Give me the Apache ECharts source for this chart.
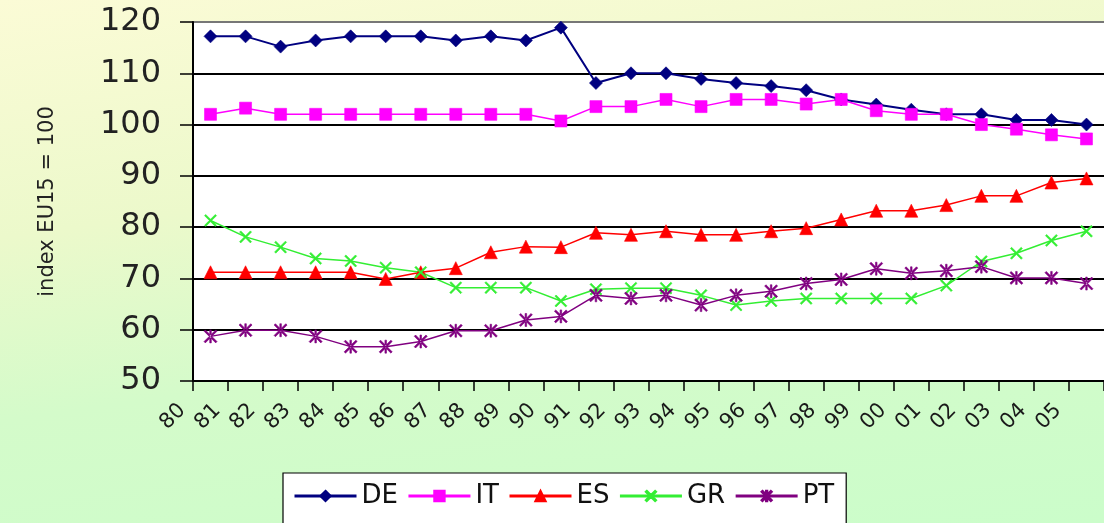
<!DOCTYPE html>
<html><head><meta charset="utf-8">
<script src="https://cdn.jsdelivr.net/npm/echarts@6/dist/echarts.min.js"></script>
<style>
html,body{margin:0;padding:0;}
#c{width:1104px;height:523px;background:linear-gradient(172deg,#fbfbd6 0%,#ecf9cb 35%,#d4fbca 62%,#cbfdca 100%);}
</style></head><body><div id="c"></div>
<script>
const years = ['80','81','82','83','84','85','86','87','88','89','90','91','92','93','94','95','96','97','98','99','00','01','02','03','04','05'];
const DE = [117.2,117.2,115.2,116.4,117.2,117.2,117.2,116.4,117.2,116.4,118.9,108.1,110,110,108.9,108.1,107.5,106.7,104.9,103.9,102.9,102,102,100.9,100.9,100];
const IT = [102,103.2,102,102,102,102,102,102,102,102,100.7,103.5,103.5,104.9,103.5,104.9,104.9,104,104.9,102.7,102,102,100,99.1,98,97.2];
const ES = [71.2,71.2,71.2,71.2,71.2,69.9,71.2,72,75.1,76.2,76.1,78.9,78.5,79.2,78.5,78.5,79.2,79.8,81.5,83.2,83.2,84.3,86.1,86.1,88.7,89.5];
const GR = [81.3,78.1,76.1,73.9,73.4,72.1,71.2,68.2,68.2,68.2,65.6,67.9,68.1,68.1,66.7,64.8,65.6,66.1,66.1,66.1,66.1,68.6,73.3,74.9,77.4,79.2];
const PT = [58.7,59.9,59.9,58.7,56.7,56.7,57.7,59.8,59.8,61.9,62.6,66.7,66.1,66.7,64.8,66.7,67.5,69,69.8,71.9,71,71.5,72.3,70.1,70.1,69];
const yTicks = {min:50, max:120, interval:10};
const yName = 'index EU15 = 100';

const FONT = 'DejaVu Sans';
const X_PATH = 'path://M1,0 L5,4 L9,0 L10,1 L6,5 L10,9 L9,10 L5,6 L1,10 L0,9 L4,5 L0,1 Z';
const STAR_PATH = 'path://M1,0 L5,4 L9,0 L10,1 L6,5 L10,9 L9,10 L5,6 L1,10 L0,9 L4,5 L0,1 Z M4.4,0 L4.4,10 L5.6,10 L5.6,0 Z';

function mk(name, data, color, symbol, size, lw){
  return {name, type:'line', data, symbol, symbolSize:size, showSymbol:true,
    lineStyle:{color, width:lw}, itemStyle:{color, borderColor:color, borderWidth:0.6},
    emphasis:{disabled:true}};
}

const chart = echarts.init(document.getElementById('c'), null, {renderer:'canvas'});
chart.setOption({
  animation:false,
  backgroundColor:'transparent',
  textStyle:{fontFamily:FONT},
  grid:{left:193, top:22, right:-11, bottom:142, show:true, backgroundColor:'#ffffff', borderWidth:0},
  legend:{
    left:283, top:473, orient:'horizontal',
    backgroundColor:'#ffffff', borderColor:'#000', borderWidth:1.2,
    padding:[10,12,30,10], itemGap:9, itemWidth:62, itemHeight:13,
    lineStyle:{width:3},
    textStyle:{fontFamily:FONT, fontSize:26, color:'#111'},
    data:['DE','IT','ES','GR','PT']
  },
  xAxis:{
    type:'category', data:years, boundaryGap:true,
    axisLine:{lineStyle:{color:'#000', width:2}},
    axisTick:{show:true, interval:0, length:10, lineStyle:{color:'#000', width:1.5}},
    axisLabel:{interval:0, rotate:45, margin:-2, padding:[0,40,0,0], fontFamily:FONT, fontSize:21, color:'#1a1a1a'},
    splitLine:{show:false}
  },
  yAxis:{
    type:'value', min:yTicks.min, max:yTicks.max, interval:yTicks.interval,
    name:yName, nameLocation:'middle', nameRotate:90, nameGap:135,
    nameTextStyle:{fontFamily:FONT, fontSize:21, color:'#222'},
    axisLine:{show:true, lineStyle:{color:'#000', width:2}},
    axisTick:{show:true, length:13, lineStyle:{color:'#000', width:1.5}},
    axisLabel:{margin:32, fontFamily:FONT, fontSize:32, color:'#222'},
    splitLine:{show:true, lineStyle:{color:['#000','#000','#000','#000','#000','#000','#000','#777'], width:2}}
  },
  series:[
    mk('DE', DE, '#000080', 'diamond', 13, 2),
    mk('IT', IT, '#ff00ff', 'rect', 12, 1.5),
    mk('ES', ES, '#ff0000', 'triangle', 13, 1.5),
    mk('GR', GR, '#33ee33', X_PATH, 12, 1.5),
    mk('PT', PT, '#800080', STAR_PATH, 13, 1.5)
  ]
});
</script></body></html>
